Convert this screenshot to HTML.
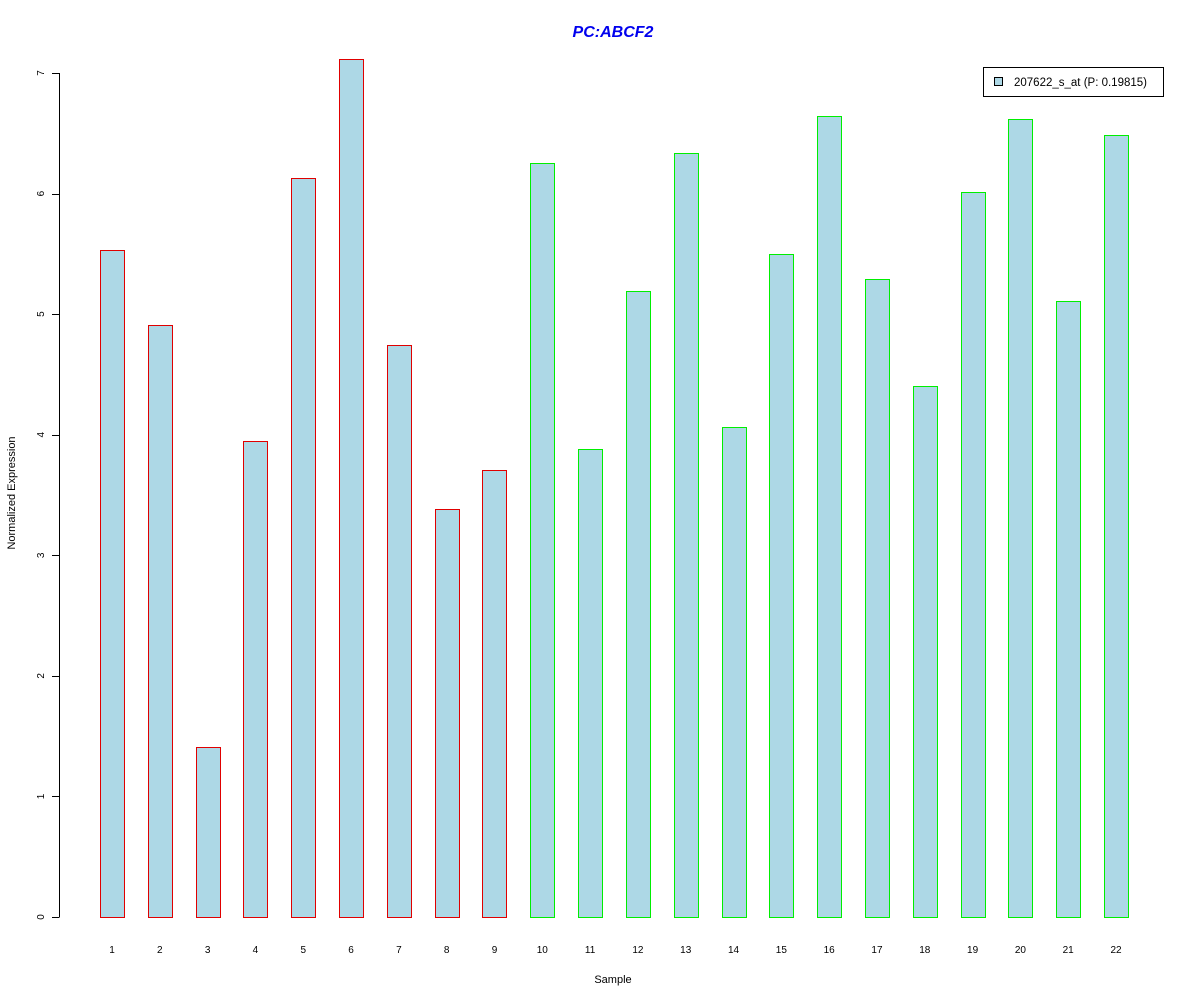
<!DOCTYPE html>
<html><head><meta charset="utf-8"><style>
body{margin:0;background:#fff;}
svg{display:block;font-family:"Liberation Sans",Arial,sans-serif;}
</style></head><body>
<svg id="chart" width="1200" height="1000" viewBox="0 0 1200 1000">
<rect width="1200" height="1000" fill="#fff"/>
<text x="613" y="37" text-anchor="middle" font-size="16" font-weight="bold" font-style="italic" fill="#0000ee">PC:ABCF2</text>
<text x="613" y="983" text-anchor="middle" font-size="11">Sample</text>
<text transform="translate(15,493) rotate(-90)" text-anchor="middle" font-size="11">Normalized Expression</text>
<g id="yaxis"></g>
<g id="bars" shape-rendering="crispEdges"></g>
<g id="xlabels"></g>
<g>
<rect x="983.5" y="67.5" width="180" height="29" fill="#fff" stroke="#000"/>
<rect x="994.5" y="77.5" width="8" height="8" fill="#add8e6" stroke="#000"/>
<text x="1014" y="86" font-size="11.5">207622_s_at (P: 0.19815)</text>
</g>
</svg>
<script>
const categories=["1","2","3","4","5","6","7","8","9","10","11","12","13","14","15","16","17","18","19","20","21","22"];
const values=[5.53,4.91,1.41,3.95,6.13,7.12,4.74,3.38,3.71,6.25,3.88,5.19,6.34,4.06,5.50,6.64,5.29,4.40,6.01,6.62,5.11,6.49];
const groups=["a","a","a","a","a","a","a","a","a","b","b","b","b","b","b","b","b","b","b","b","b","b"];
const yTicks=[0,1,2,3,4,5,6,7];
const NS="http://www.w3.org/2000/svg";
const y=v=>917-v*120.57;
const x=i=>112+i*47.81;
function mk(tag,attrs,parent){const e=document.createElementNS(NS,tag);for(const k in attrs)e.setAttribute(k,attrs[k]);parent.appendChild(e);return e;}
const ya=document.getElementById('yaxis'),bg=document.getElementById('bars'),xl=document.getElementById('xlabels');
const axl=mk('line',{x1:59.5,x2:59.5,y1:y(0),y2:y(7),stroke:'#000'},ya);


yTicks.forEach(t=>{
 const l=mk('line',{x1:52,x2:59.5,y1:Math.round(y(t))+0.5,y2:Math.round(y(t))+0.5,stroke:'#000'},ya);
 
 
 const tx=mk('text',{'font-size':10,'text-anchor':'middle',transform:`translate(44,${y(t)}) rotate(-90)`},ya);
 tx.textContent=t;
 
 
});
values.forEach((v,i)=>{
 const col=groups[i]==='a'?'#e00000':'#00ee00';
 const r=mk('rect',{x:Math.round(x(i)-12)+0.5,y:Math.round(y(v))+0.5,width:24,height:Math.round(y(0))-Math.round(y(v)),fill:'#add8e6',stroke:col,'stroke-width':1},bg);
 r.style.stroke=col;
 
 
 const t=mk('text',{x:x(i),y:953,'font-size':10,'text-anchor':'middle'},xl);
 t.textContent=categories[i];
 
 
});
</script>
</body></html>
